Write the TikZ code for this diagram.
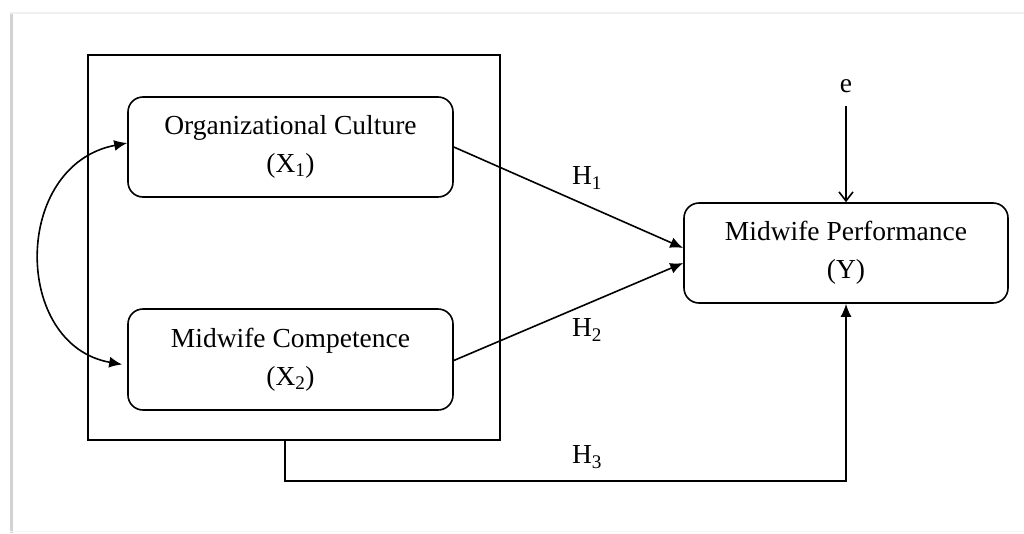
\documentclass[tikz,border=0pt]{standalone}
\usepackage{fontspec}
\setmainfont{Liberation Serif}
\usetikzlibrary{arrows.meta,calc}
\begin{document}
\begin{tikzpicture}[x=1pt,y=-1pt,
  every node/.style={font=\fontsize{27.5}{38}\selectfont},
  varbox/.style={draw,line width=1.6pt,rounded corners=15pt,align=center,minimum width=325pt,minimum height=100pt,inner sep=0pt},
  arr/.style={line width=1.6pt,-{Latex[length=13pt,width=11pt]}},
  hlab/.style={inner sep=0pt}]
\useasboundingbox (0,0) rectangle (1024,533);
\draw[gray!35,line width=3pt] (11.5,13) -- (11.5,533);
\draw[gray!12,line width=1.5pt] (10,13) -- (1024,13);
\draw[gray!8,line width=1pt] (10,531.5) -- (1024,531.5);
\node[draw,line width=1.6pt,minimum width=412pt,minimum height=385pt,inner sep=0pt] (group) at (294,247.5) {};
\node[varbox] (org) at (290.5,147) {Organizational Culture\\(X\textsubscript{1})};
\node[varbox,minimum height=101pt] (comp) at (290.5,359.5) {Midwife Competence\\(X\textsubscript{2})};
\node[varbox,minimum width=324pt] (Y) at (846,253) {Midwife Performance\\(Y)};
\node[inner sep=0pt] (e) at (846,86) {e};
\node[hlab] (h1) at (587,178) {H\textsubscript{1}};
\node[hlab] (h2) at (587,330) {H\textsubscript{2}};
\node[hlab] (h3) at (587,457) {H\textsubscript{3}};
\draw[line width=1.6pt,-{Straight Barb[length=9pt,width=14pt]}] ([yshift=-13pt]e.south) -- (Y.north);
\draw[arr] (org.east) -- ([yshift=5pt]Y.west);
\draw[arr] ([yshift=-1pt]comp.east) -- ([yshift=-10pt]Y.west);
\draw[arr] ([xshift=-9pt]group.south) -- ++(0,-40pt) -| (Y.south);
\draw[line width=1.6pt,{Latex[length=13pt,width=11pt]}-{Latex[length=13pt,width=11pt]}] ([xshift=-5pt,yshift=-5pt]comp.west) .. controls (12,345) and (12,165) .. ([yshift=4pt]org.west);
\end{tikzpicture}
\end{document}
